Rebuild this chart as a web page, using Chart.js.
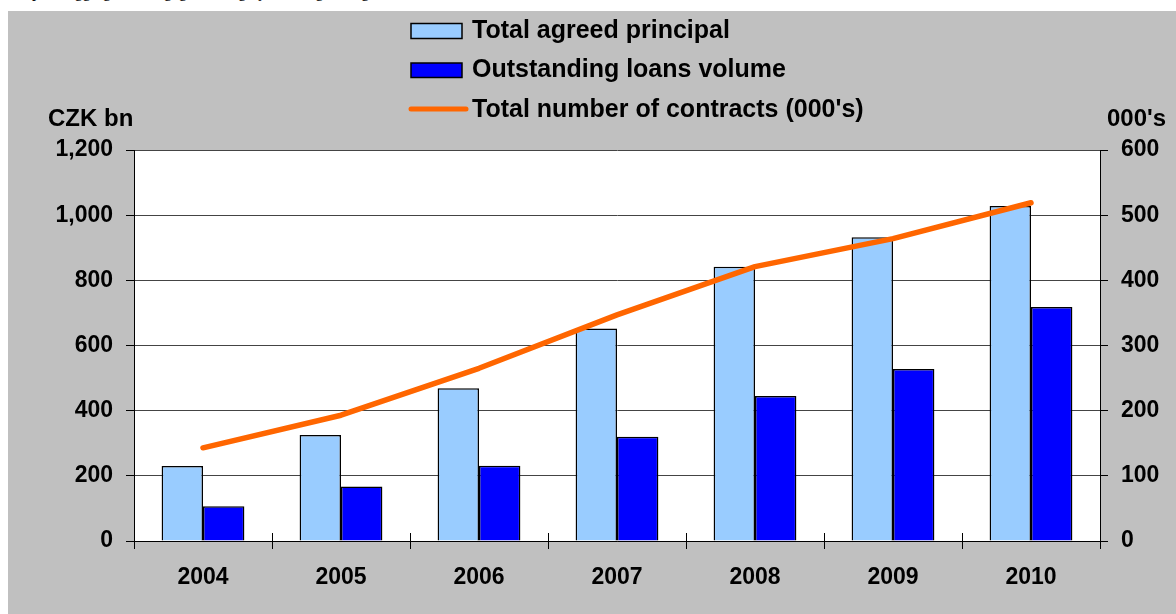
<!DOCTYPE html>
<html>
<head>
<meta charset="utf-8">
<script src="https://cdn.jsdelivr.net/npm/chart.js@4/dist/chart.umd.min.js"></script>
<style>
  html, body { margin: 0; padding: 0; background: #ffffff; }
  #wrap { position: relative; width: 1176px; height: 614px; overflow: hidden; }
  #panel { position: absolute; left: 8px; top: 11px; right: 0; bottom: 0; background: #c0c0c0; }
  #cut { position: absolute; left: 8px; top: -17px; font: 16px "Liberation Serif", serif; color: #000; white-space: nowrap; }
  canvas { position: absolute; left: 0; top: 0; }
</style>
</head>
<body>
<div id="wrap">
  <div id="cut">Graph 4 Aggregate mortgage lending by building savings banks</div>
  <div id="panel"></div>
  <canvas id="c" width="1176" height="614"></canvas>
</div>
<script>
const categories = ['2004', '2005', '2006', '2007', '2008', '2009', '2010'];
const agreedPrincipal = [230, 325, 469, 652, 842, 932, 1028];
const outstandingLoans = [107, 167, 231, 320, 445, 528, 718];
const contracts = [143, 193, 265, 347, 421, 464, 519];
const leftTicks = [0, 200, 400, 600, 800, 1000, 1200];
const rightTicks = [0, 100, 200, 300, 400, 500, 600];
const seriesNames = ['Total agreed principal', 'Outstanding loans volume', "Total number of contracts (000's)"];
const leftTitle = 'CZK bn';
const rightTitle = "000's";

const FONT = '"Liberation Sans", Arial, sans-serif';

const decor = {
  id: 'decor',
  beforeDraw(chart) {
    const { ctx, chartArea: a } = chart;
    ctx.save();
    ctx.fillStyle = '#ffffff';
    ctx.fillRect(a.left, a.top, a.right - a.left, a.bottom - a.top);
    ctx.restore();
  },
  afterDraw(chart) {
    const { ctx, chartArea: a } = chart;
    ctx.save();
    // category separator ticks crossing the x axis
    ctx.strokeStyle = '#000';
    ctx.lineWidth = 1;
    const n = categories.length;
    const w = (a.right - a.left) / n;
    for (let i = 0; i <= n; i++) {
      const px = Math.round(a.left + i * w) + 0.5;
      ctx.beginPath();
      ctx.moveTo(px, a.bottom - 8);
      ctx.lineTo(px, a.bottom + 8);
      ctx.stroke();
    }
    // axis titles
    ctx.fillStyle = '#000';
    ctx.font = 'bold 24px ' + FONT;
    ctx.textBaseline = 'alphabetic';
    ctx.textAlign = 'left';
    ctx.fillText(leftTitle, 48, 126);
    ctx.fillText(rightTitle, 1107, 126);
    // legend
    ctx.lineWidth = 1.5;
    ctx.strokeStyle = '#000';
    ctx.fillStyle = '#99ccff';
    ctx.fillRect(411, 23.5, 51, 15);
    ctx.strokeRect(411, 23.5, 51, 15);
    ctx.fillStyle = '#0000ff';
    ctx.fillRect(411, 63, 51, 14.5);
    ctx.strokeRect(411, 63, 51, 14.5);
    ctx.strokeStyle = '#ff6600';
    ctx.lineWidth = 5;
    ctx.lineCap = 'round';
    ctx.beginPath();
    ctx.moveTo(411, 109);
    ctx.lineTo(466, 109);
    ctx.stroke();
    ctx.fillStyle = '#000';
    ctx.font = 'bold 25px ' + FONT;
    const baselines = [37.5, 76.5, 116.5];
    seriesNames.forEach((s, i) => ctx.fillText(s, 472, baselines[i]));
    ctx.restore();
  }
};

new Chart(document.getElementById('c'), {
  data: {
    labels: categories,
    datasets: [
      {
        type: 'line', label: seriesNames[2], data: contracts, yAxisID: 'y2',
        borderColor: '#ff6600', borderWidth: 5.5, pointRadius: 0, tension: 0,
        borderCapStyle: 'round', borderJoinStyle: 'round', order: 0
      },
      {
        type: 'bar', label: seriesNames[0], data: agreedPrincipal, yAxisID: 'y',
        backgroundColor: '#99ccff', borderColor: '#000', borderWidth: 1.5,
        barPercentage: 1, categoryPercentage: 0.6, order: 1
      },
      {
        type: 'bar', label: seriesNames[1], data: outstandingLoans, yAxisID: 'y',
        backgroundColor: '#0000ff', borderColor: '#000', borderWidth: 1.5,
        barPercentage: 1, categoryPercentage: 0.6, order: 1
      }
    ]
  },
  options: {
    responsive: false,
    animation: false,
    layout: { padding: { left: 0, right: 0, top: 150, bottom: 0 } },
    plugins: { legend: { display: false }, tooltip: { enabled: false } },
    scales: {
      x: {
        offset: true,
        grid: { display: false, drawOnChartArea: false },
        border: { display: true, color: '#000', width: 1 },
        ticks: { color: '#000', font: { family: FONT, size: 23, weight: 'bold' }, padding: 15, maxRotation: 0 },
        afterFit(s) { s.height = 73; }
      },
      y: {
        position: 'left', min: 0, max: 1200,
        afterBuildTicks(s) { s.ticks = leftTicks.map(v => ({ value: v })); },
        grid: { color: '#444', lineWidth: 1, tickLength: 8, tickColor: '#000' },
        border: { display: true, color: '#000', width: 1 },
        ticks: {
          color: '#000', font: { family: FONT, size: 23, weight: 'bold' }, padding: 13,
          callback: v => v.toLocaleString('en-US')
        },
        afterFit(s) { s.width = 134; }
      },
      y2: {
        position: 'right', min: 0, max: 600,
        afterBuildTicks(s) { s.ticks = rightTicks.map(v => ({ value: v })); },
        grid: { drawOnChartArea: false, tickLength: 8, tickColor: '#000' },
        border: { display: true, color: '#000', width: 1 },
        ticks: {
          color: '#000', font: { family: FONT, size: 23, weight: 'bold' }, padding: 13,
          callback: v => String(v)
        },
        afterFit(s) { s.width = 76; }
      }
    }
  },
  plugins: [decor]
});
</script>
</body>
</html>
